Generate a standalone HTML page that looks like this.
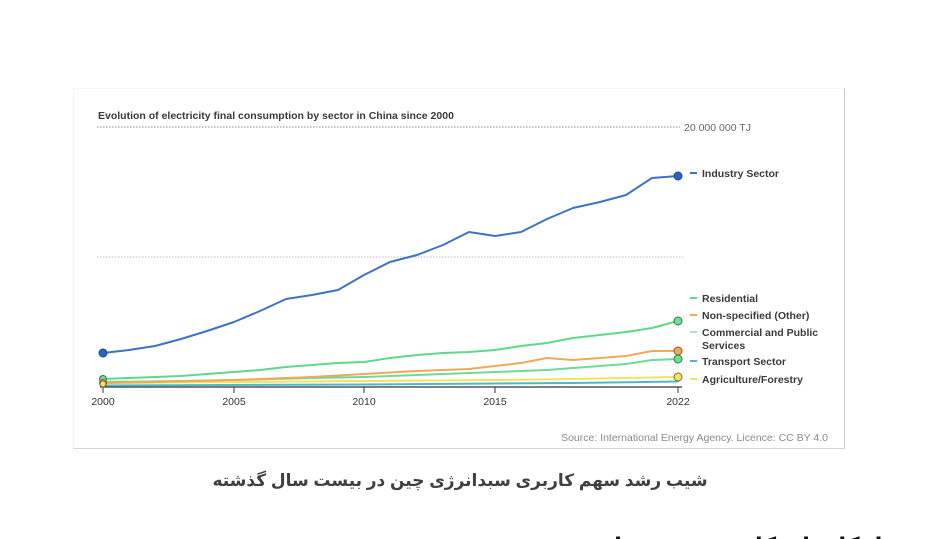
<!DOCTYPE html>
<html>
<head>
<meta charset="utf-8">
<style>
  html,body{margin:0;padding:0;background:#fff;width:940px;height:539px;overflow:hidden;}
  body{position:relative;font-family:"Liberation Sans",Arial,sans-serif;}
  .card{position:absolute;left:73px;top:88px;width:770px;height:359px;background:#fff;border-right:1px solid #c8c8c8;border-bottom:1px solid #d4d4d4;border-left:1px solid #f2f2f2;border-top:1px solid #f6f6f6;}
  svg{position:absolute;left:0;top:0;}
  .cap{position:absolute;left:-10px;width:940px;top:471px;text-align:center;direction:rtl;font-family:"Liberation Sans","Noto Sans CJK SC","DejaVu Sans",sans-serif;font-weight:bold;font-size:17px;line-height:20px;color:#404040;}
  .h2{position:absolute;right:45px;top:535px;direction:rtl;font-family:"Liberation Sans","DejaVu Sans",sans-serif;font-weight:bold;font-size:22px;line-height:22px;color:#111;white-space:nowrap;}
</style>
</head>
<body>
<div class="card"></div>
<svg width="940" height="539" viewBox="0 0 940 539" xmlns="http://www.w3.org/2000/svg" font-family="Liberation Sans, Arial, sans-serif">
  <text x="98" y="119" font-size="10.5" font-weight="bold" fill="#3a3a3a">Evolution of electricity final consumption by sector in China since 2000</text>
  <line x1="97" y1="127" x2="680" y2="127" stroke="#888" stroke-width="1" stroke-dasharray="1.5,1.5"/>
  <text x="684" y="131" font-size="10.5" fill="#666">20 000 000 TJ</text>
  <line x1="97" y1="257" x2="683" y2="257" stroke="#bbb" stroke-width="1" stroke-dasharray="1.5,1.5"/>

  <line x1="100" y1="387" x2="682" y2="387" stroke="#333" stroke-width="1.3"/>
  <g stroke="#333" stroke-width="1">
    <line x1="103" y1="387" x2="103" y2="393"/>
    <line x1="234" y1="387" x2="234" y2="393"/>
    <line x1="364" y1="387" x2="364" y2="393"/>
    <line x1="495" y1="387" x2="495" y2="393"/>
    <line x1="678" y1="387" x2="678" y2="393"/>
  </g>
  <g font-size="10.5" fill="#333" text-anchor="middle">
    <text x="103" y="405">2000</text>
    <text x="234" y="405">2005</text>
    <text x="364" y="405">2010</text>
    <text x="495" y="405">2015</text>
    <text x="678" y="405">2022</text>
  </g>

  <g fill="none" stroke-linejoin="round" stroke-linecap="round">
    <polyline stroke="#4bb8cf" stroke-width="2" points="103,385.5 234,385 364,384.5 495,383.5 573,383 678,381.5"/>
    <polyline stroke="#f2e35a" stroke-width="2" points="103,383 234,382 364,381 495,380 573,379 626,378 678,377"/>
    <polyline stroke="#6fd99a" stroke-width="2" points="103,382 181,381 234,380 312,378 364,377 417,375 469,373 495,372 547,370 573,368 600,366 626,364 652,360 678,359"/>
    <polyline stroke="#f0a85a" stroke-width="2" points="103,383 155,382 234,380 312,377 364,374 417,371 469,369 495,366 521,363 547,358 573,360 600,358 626,356 652,351 678,351"/>
    <polyline stroke="#5fd88a" stroke-width="2" points="103,379 129,378 155,377 181,376 207,374 234,372 260,370 286,367 312,365 338,363 364,362 390,358 417,355 443,353 469,352 495,350 521,346 547,343 573,338 600,335 626,332 652,328 678,321"/>
    <polyline stroke="#3d72c6" stroke-width="2" points="103,353 129,350 155,346 181,339 207,331 234,322 260,311 286,299 312,295 338,290 364,275 390,262 417,255 443,245 469,232 495,236 521,232 547,219 573,208 600,202 626,195 652,178 678,176"/>
  </g>

  <circle cx="103" cy="353" r="4" fill="#2f63b8" stroke="#1f4588" stroke-width="1"/>
  <circle cx="103" cy="379" r="3.5" fill="#6fdc95" stroke="#2e7a45" stroke-width="1"/>
  <circle cx="103" cy="383" r="3.5" fill="#f2b365" stroke="#8a5a20" stroke-width="1"/>
  <circle cx="103" cy="384" r="3" fill="#f3e26a" stroke="#7a7020" stroke-width="1"/>
  <circle cx="678" cy="176" r="4" fill="#2f63b8" stroke="#1f4588" stroke-width="1"/>
  <circle cx="678" cy="321" r="4" fill="#72dc98" stroke="#2e7a45" stroke-width="1"/>
  <circle cx="678" cy="351" r="4" fill="#f0aa60" stroke="#8a5a20" stroke-width="1"/>
  <circle cx="678" cy="359" r="4" fill="#72dc98" stroke="#2e7a45" stroke-width="1"/>
  <circle cx="678" cy="377" r="4" fill="#f5e16a" stroke="#7a7020" stroke-width="1"/>

  <g stroke-width="2">
    <line x1="690" y1="173" x2="697" y2="173" stroke="#3d72c6"/>
    <line x1="690" y1="298" x2="697" y2="298" stroke="#5fd88a"/>
    <line x1="690" y1="315" x2="697" y2="315" stroke="#f0a85a"/>
    <line x1="690" y1="332" x2="697" y2="332" stroke="#a9e9c2"/>
    <line x1="690" y1="361" x2="697" y2="361" stroke="#4bb8cf"/>
    <line x1="690" y1="379" x2="697" y2="379" stroke="#f2e35a"/>
  </g>
  <g font-size="10.5" font-weight="bold" fill="#3a3a3a">
    <text x="702" y="177">Industry Sector</text>
    <text x="702" y="302">Residential</text>
    <text x="702" y="319">Non-specified (Other)</text>
    <text x="702" y="336">Commercial and Public</text>
    <text x="702" y="349">Services</text>
    <text x="702" y="365">Transport Sector</text>
    <text x="702" y="383">Agriculture/Forestry</text>
  </g>

  <text x="828" y="441" font-size="10.5" fill="#8a8a8a" text-anchor="end">Source: International Energy Agency. Licence: CC BY 4.0</text>
</svg>
<div class="cap">شیب رشد سهم کاربری سبدانرژی چین در بیست سال گذشته</div>
<div class="h2">راهکارهای کاهش مصرف انرژی</div>
</body>
</html>
